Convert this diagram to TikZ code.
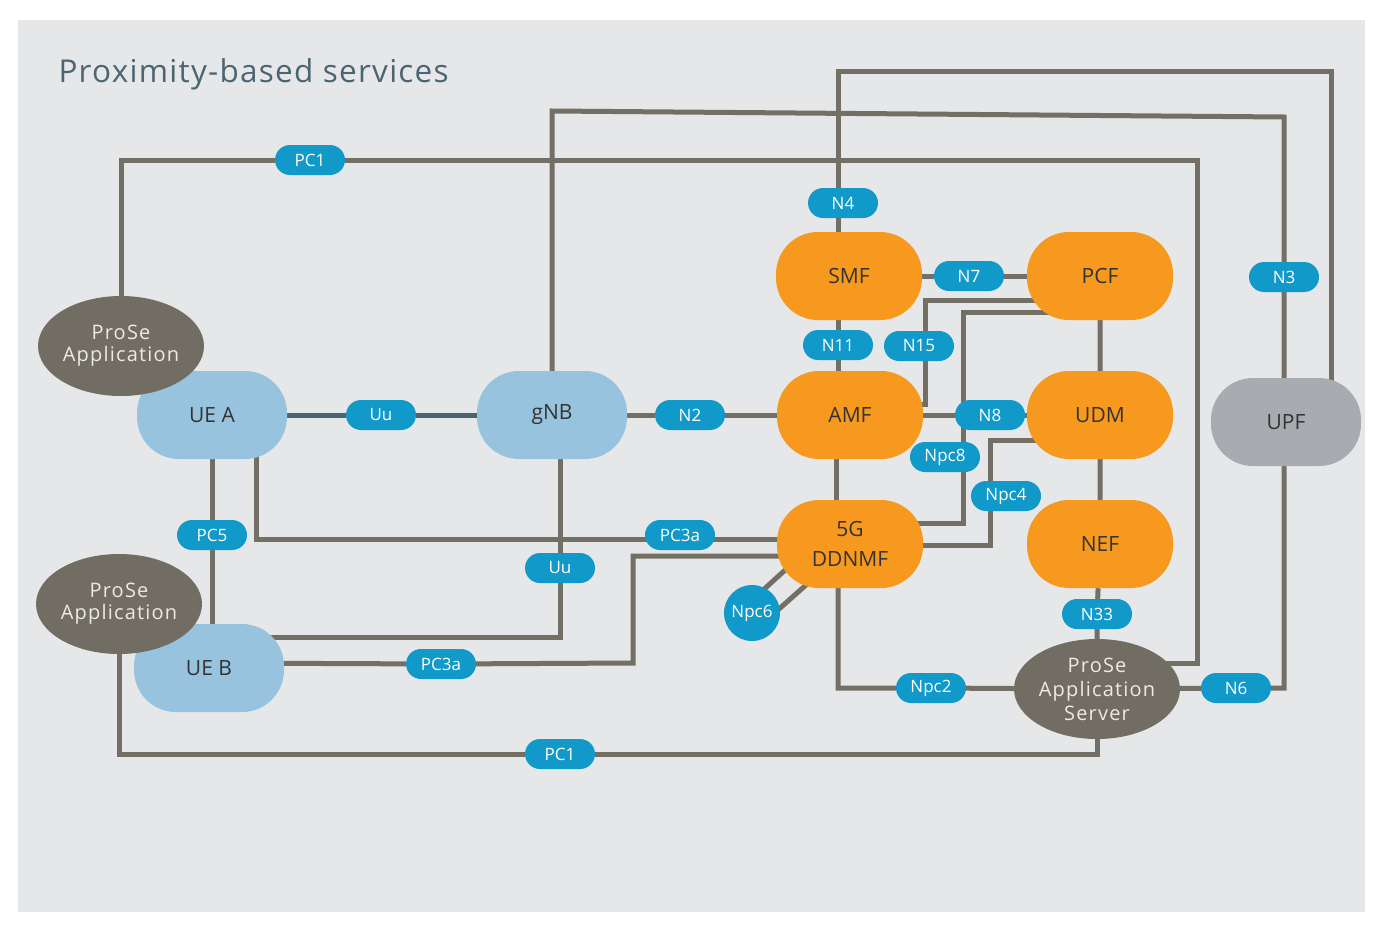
\documentclass[tikz,border=0pt]{standalone}
\usepackage{fontspec}
\setmainfont{Open Sans}
\newfontfamily\spacedsans[LetterSpace=6]{Open Sans}
\newfontfamily\titlesans[LetterSpace=4]{Open Sans}
\usetikzlibrary{shapes.geometric,calc}

\definecolor{panelbg}{HTML}{E6E7E9}
\definecolor{wire}{HTML}{736F65}
\definecolor{pill}{HTML}{1199C9}
\definecolor{nforange}{HTML}{F7991E}
\definecolor{uablue}{HTML}{98C3DF}
\definecolor{upfgray}{HTML}{A8ACB1}
\definecolor{appbrown}{HTML}{726D63}
\definecolor{applight}{HTML}{ECEAE4}
\definecolor{titlecol}{HTML}{4B6573}
\definecolor{radiolink}{HTML}{4A6474}
\definecolor{nftext}{HTML}{333333}

\newcommand\nfFont{\fontsize{21}{30}\selectfont}
\newcommand\appFont{\spacedsans\fontsize{20}{22}\selectfont}
\newcommand\srvFont{\spacedsans\fontsize{20}{24}\selectfont}
\newcommand\lblFont{\fontsize{17}{19}\selectfont}
\newcommand\headFont{\titlesans\fontsize{31.5}{36}\selectfont}

\pgfdeclarelayer{panel}
\pgfdeclarelayer{wires}
\pgfsetlayers{panel,wires,main}

\tikzset{
  nf/.style={rectangle, rounded corners=42pt, minimum width=146pt, minimum height=88pt,
    inner sep=0pt, font=\nfFont, text=nftext, align=center},
  orangenf/.style={nf, fill=nforange},
  uebox/.style={nf, fill=uablue, minimum width=150pt},
  upfbox/.style={nf, fill=upfgray, minimum width=150pt},
  app/.style={ellipse, fill=appbrown, minimum width=166pt, minimum height=100pt,
    inner sep=0pt, text=applight, font=\appFont, align=center},
  lbl/.style={rectangle, rounded corners=15pt, fill=pill, minimum width=70pt,
    minimum height=30pt, inner sep=0pt, text=white, font=\lblFont},
  lblcircle/.style={circle, fill=pill, minimum size=56pt, inner sep=0pt,
    text=white, font=\lblFont},
  conn/.style={draw=wire, line width=5pt},
  radio/.style={draw=radiolink, line width=5pt}
}

\begin{document}
\begin{tikzpicture}[x=1pt,y=-1pt]
\useasboundingbox (0,0) rectangle (1380,927);
\begin{pgfonlayer}{panel}
  \fill[white] (0,0) rectangle (1380,927);
  \fill[panelbg] (18,20) rectangle (1365,912);
\end{pgfonlayer}

\node[anchor=west, text=titlecol, font=\headFont] (title) at (55,74) {Proximity-based services};

% network functions
\node[uebox] (uea) at (212,415) {UE A};
\node[uebox] (ueb) at (209,668) {UE B};
\node[uebox] (gnb) at (552,415) {gNB};
\node[orangenf] (amf) at (850,415) {AMF};
\node[orangenf] (smf) at (849,276) {SMF};
\node[orangenf] (pcf) at (1100,276) {PCF};
\node[orangenf] (udm) at (1100,415) {UDM};
\node[orangenf] (nef) at (1100,544) {NEF};
\node[orangenf] (ddnmf) at (850,544) {5G\\DDNMF};
\node[upfbox] (upf) at (1286,422) {UPF};

% applications
\node[app] (appA) at (121,346) {ProSe\\Application};
\node[app] (appB) at (119,604) {ProSe\\Application};
\node[app, font=\srvFont] (server) at (1097,689) {ProSe\\Application\\Server};

% reference point labels
\node[lbl] (pc1a) at (310,160) {PC1};
\node[lbl] (n4) at (843,203) {N4};
\node[lbl] (n7) at (969,276) {N7};
\node[lbl] (n3) at (1284,277) {N3};
\node[lbl] (n11) at (838,345) {N11};
\node[lbl] (n15) at (919,346) {N15};
\node[lbl] (uu1) at (381,415) {Uu};
\node[lbl] (n2) at (690,415) {N2};
\node[lbl] (n8) at (990,415) {N8};
\node[lbl] (npc8) at (945,457) {Npc8};
\node[lbl] (npc4) at (1006,496) {Npc4};
\node[lbl] (pc5) at (212,535) {PC5};
\node[lbl] (pc3aa) at (680,535) {PC3a};
\node[lbl] (uu2) at (560,568) {Uu};
\node[lblcircle] (npc6) at (752,613) {Npc6};
\node[lbl] (n33) at (1097,614) {N33};
\node[lbl] (pc3ab) at (441,664) {PC3a};
\node[lbl] (npc2) at (931,688) {Npc2};
\node[lbl] (n6) at (1236,688) {N6};
\node[lbl] (pc1b) at (560,754) {PC1};

\begin{pgfonlayer}{wires}
  % PC1 between the application on UE A and the server
  \draw[conn] (appA) |- (pc1a) -- (1197,160) -- (1197,663) -- (server |- 0,663);
  % gNB to UPF over N3
  \draw[conn] (gnb) -- (552,111) -- (1284,117) -- (n3) -- (n3 |- upf);
  % SMF to UPF over N4
  \draw[conn] (smf -| n11) -- (n11 |- 0,71) -- (1331,71) -- (upf -| 1331,0);
  \draw[conn] (smf) -- (n7) -- (pcf);
  \draw[conn] (smf -| n11) -- (n11) -- (amf -| n11);
  % PCF to AMF over N15
  \draw[conn] (pcf |- 0,300) -- (925,300) -- (925,404) -- (amf |- 0,404);
  % PCF to 5G DDNMF over Npc8
  \draw[conn] (pcf |- 0,312) -- (963,312) -- (963,523) -- (ddnmf |- 0,523);
  \draw[conn] (amf) -- (n8) -- (udm);
  % UDM to 5G DDNMF over Npc4
  \draw[conn] (udm |- 0,440) -- (990,440) -- (990,545) -- (ddnmf |- 0,545);
  \draw[conn] (pcf) -- (udm) -- (nef) -- (n33) -- (server);
  \draw[radio] (uea) -- (uu1) -- (gnb);
  \draw[conn] (gnb) -- (n2) -- (amf);
  \draw[conn] (amf -| 836,0) -- (ddnmf -| 836,0);
  \draw[conn] (uea) -- (pc5) -- (pc5 |- ueb);
  % PC3a from UE A
  \draw[conn] (uea -| 256,0) -- (256,539) -- (ddnmf |- 0,539);
  % Uu from gNB to UE B
  \draw[conn] (gnb -| 560,0) -- (uu2) -- (560,637) -- (ueb |- 0,637);
  % PC3a from UE B
  \draw[conn] (ueb |- 0,663) -- (pc3ab) -- (633,663) -- (633,556) -- (ddnmf |- 0,556);
  % Npc6 pair
  \draw[conn] ($(npc6)+(-2,-11)$) -- ($(npc6)+(43,-52)$);
  \draw[conn] ($(npc6)+(18,4)$) -- ($(npc6)+(63,-36)$);
  % Npc2 to the server
  \draw[conn] (ddnmf -| 838,0) -- (838,688) -- (npc2) -- (server);
  % N6 to UPF
  \draw[conn] (server) -- (n6) -- (1284,688) -- (upf -| 1284,0);
  % PC1 between the application on UE B and the server
  \draw[conn] (appB) |- (pc1b) -| (server);
\end{pgfonlayer}
\end{tikzpicture}
\end{document}
